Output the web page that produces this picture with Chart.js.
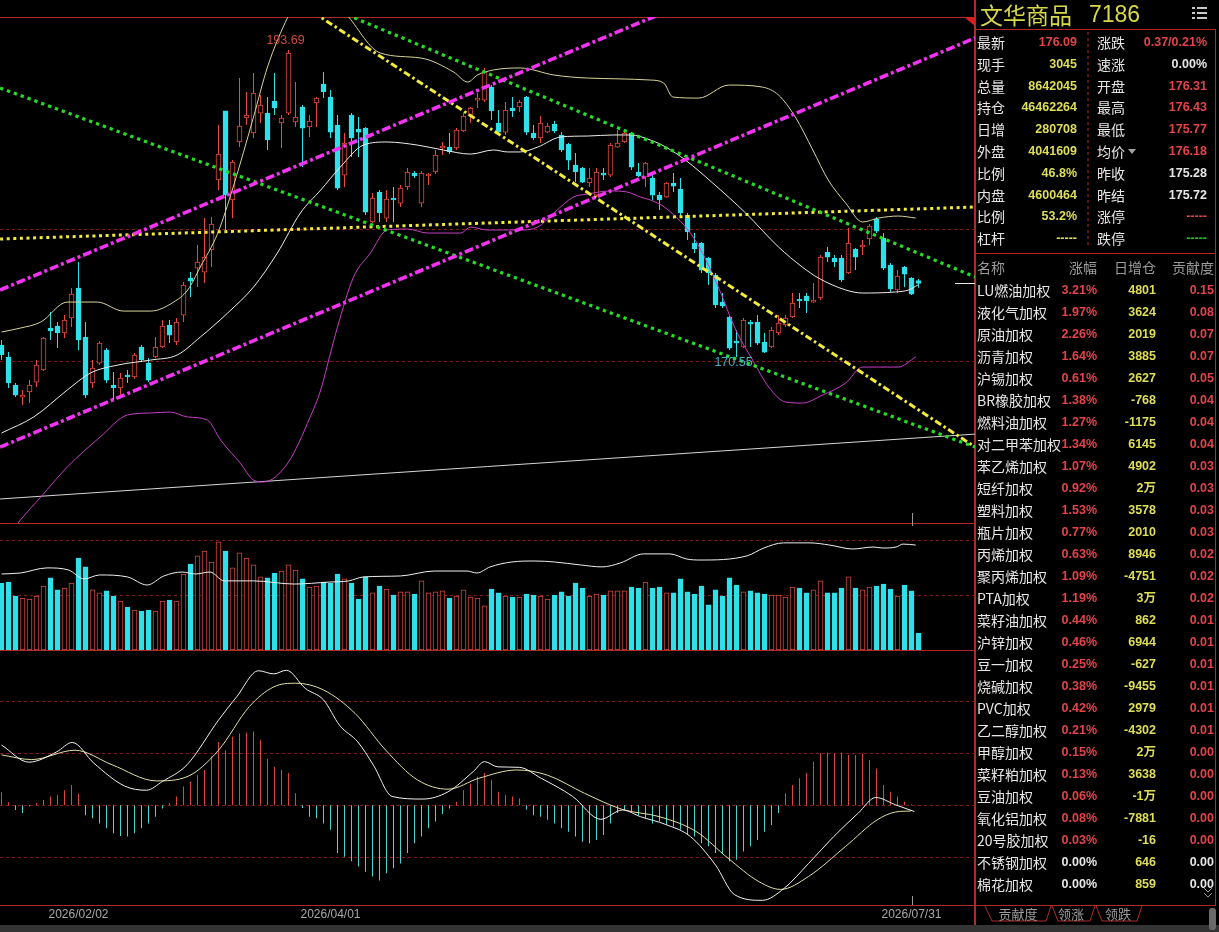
<!DOCTYPE html>
<html><head><meta charset="utf-8">
<script src="https://cdn.jsdelivr.net/npm/chart.js@4.4.1/dist/chart.umd.min.js"></script>
<style>
html,body{margin:0;padding:0;background:#000;width:1219px;height:932px;overflow:hidden;}
#wrap{position:relative;width:1219px;height:932px;background:#000;font-family:"Noto Sans CJK SC","Liberation Sans",sans-serif;}
canvas{position:absolute;left:0;}
.ln{position:absolute;background:#b02a2a;}
.t{position:absolute;white-space:nowrap;}
</style></head><body><div id="wrap">
<div class="ln" style="left:0;top:17px;width:975px;height:1px"></div>
<div class="ln" style="left:0;top:523px;width:975px;height:1px"></div>
<div class="ln" style="left:0;top:650px;width:975px;height:1px"></div>
<div class="ln" style="left:0;top:905px;width:975px;height:1px"></div>
<div class="ln" style="left:974px;top:0;width:2px;height:925px"></div>
<div class="ln" style="left:975px;top:29px;width:241px;height:1px"></div>
<div class="ln" style="left:975px;top:253px;width:241px;height:1px"></div>
<div class="ln" style="left:1215px;top:29px;width:1px;height:876px"></div>
<div style="position:absolute;left:0;top:925px;width:1219px;height:7px;background:#343434"></div>
<div style="position:absolute;left:1209px;top:908px;width:7px;height:22px;background:#6a6a6a;border-radius:3px"></div>
<canvas id="cMain" width="975" height="506" style="top:17px"></canvas>
<canvas id="cVol" width="975" height="127" style="top:523px"></canvas>
<canvas id="cMacd" width="975" height="275" style="top:650px"></canvas>
<svg style="position:absolute;left:0;top:0" width="1219" height="932">
<polygon points="964,17 975,17 975,26" fill="#d42020"/>
<line x1="1088" y1="32" x2="1088" y2="248" stroke="#b02a2a" stroke-dasharray="3,3"/>
<polygon points="1128,149 1136,149 1132,154" fill="#a0a0a0"/>
<rect x="1192" y="7" width="3" height="2" fill="#c8c8c8"/><rect x="1197" y="7" width="10" height="2" fill="#c8c8c8"/>
<rect x="1192" y="12" width="3" height="2" fill="#c8c8c8"/><rect x="1197" y="12" width="10" height="2" fill="#c8c8c8"/>
<rect x="1192" y="17" width="3" height="2" fill="#c8c8c8"/><rect x="1197" y="17" width="10" height="2" fill="#c8c8c8"/>
<line x1="975" y1="905.5" x2="1216" y2="905.5" stroke="#b02a2a"/>
<polyline points="985,906 992,921 1046,921 1051,906" stroke="#b02a2a" fill="none"/>
<polyline points="1052,906 1058,921 1090,921 1095,906" stroke="#b02a2a" fill="none"/>
<polyline points="1096,906 1102,921 1137,921 1142,906" stroke="#b02a2a" fill="none"/>
<polyline points="1204,888 1208,892 1212,888" stroke="#9a9a9a" fill="none"/>
<polyline points="1204,893 1208,897 1212,893" stroke="#9a9a9a" fill="none"/>
</svg>
</div>
<script>
// ================= DATA =================
const opens = [
171.45,170.55,168.44,167.53,167.91,168.66,169.57,172.73,172.88,172.36,
173.49,175.75,172.05,168.59,170.09,171.07,168.44,168.21,169.19,169.04,
171.30,170.09,170.55,171.30,172.96,171.68,173.71,176.50,177.25,176.95,
178.61,183.89,189.09,182.38,186.75,188.56,187.43,188.93,188.93,189.84,
188.18,188.93,188.26,189.39,187.88,189.69,191.12,190.14,188.03,184.26,
188.78,187.73,187.80,180.72,182.98,181.02,182.53,182.15,183.36,184.41,
182.15,184.19,184.49,186.30,186.37,186.30,187.58,188.78,189.91,189.91,
190.89,188.18,187.50,189.31,189.39,190.14,187.43,187.05,187.50,188.11,
187.28,186.60,185.02,184.79,183.66,182.75,184.41,184.26,186.37,186.75,
187.43,184.49,184.11,184.04,182.75,182.60,183.66,183.21,181.25,179.14,
179.14,178.01,176.73,174.69,173.56,171.75,171.30,173.18,173.18,171.68,
171.30,172.36,172.96,173.56,174.92,175.14,174.69,175.00,178.46,178.01,
178.01,176.88,178.69,178.84,179.44,180.95,179.51,177.48,175.60,177.33,
176.50,176.31];
const highs = [
171.83,170.92,168.59,168.06,168.81,170.32,172.05,173.94,173.18,173.71,
175.75,177.71,173.18,170.32,171.75,171.22,169.42,169.34,169.57,170.85,
171.45,170.47,172.05,173.33,173.33,173.49,176.20,176.95,178.99,181.02,
181.10,188.03,189.09,185.39,191.57,190.52,191.95,190.29,190.14,191.95,
188.78,193.69,191.27,189.54,188.78,190.14,192.02,190.67,188.78,187.43,
188.93,188.63,187.88,182.91,183.13,183.13,183.36,183.51,184.79,184.56,
184.56,184.41,186.15,186.75,187.43,187.80,188.93,189.39,190.44,192.33,
191.04,189.16,189.76,190.14,189.91,190.22,188.03,188.71,188.18,188.33,
187.50,186.67,185.92,184.86,184.79,184.79,184.79,186.67,187.65,187.50,
187.50,185.17,185.24,184.41,182.98,183.73,184.41,184.04,181.40,179.89,
179.21,178.08,176.88,175.37,173.64,172.58,173.49,173.33,173.71,172.36,
172.81,173.71,173.71,175.37,175.37,175.37,176.12,178.23,178.84,178.23,
178.23,180.27,178.76,179.36,180.57,181.10,179.89,177.63,177.10,177.41,
176.58,176.43];
const lows = [
170.32,168.21,167.53,166.93,167.08,168.29,169.49,171.83,171.22,171.98,
172.81,171.07,167.46,168.21,169.94,168.59,167.31,167.68,168.59,168.89,
170.17,168.66,170.47,171.22,171.60,171.45,173.18,175.07,175.82,176.12,
177.33,183.13,180.12,181.02,186.37,188.03,187.05,188.18,186.15,188.78,
186.30,188.78,187.88,184.86,187.13,187.88,190.06,187.05,183.13,183.36,
185.62,185.62,181.25,180.64,180.72,180.72,180.72,181.85,183.13,184.04,
181.85,183.51,184.34,185.77,185.84,186.15,187.50,188.18,189.31,189.76,
188.41,187.43,187.28,188.63,189.01,187.28,186.90,186.67,187.43,187.43,
186.00,184.64,183.73,183.66,183.36,182.60,183.89,184.11,186.30,186.67,
184.64,184.11,183.36,182.38,181.62,182.53,182.98,181.10,179.36,178.38,
176.88,175.97,174.24,174.24,171.07,170.55,171.22,171.30,171.45,170.85,
171.22,172.20,172.81,173.49,174.24,173.86,174.62,174.84,177.71,177.33,
176.20,176.80,177.10,178.23,178.99,179.89,177.10,175.45,175.37,175.82,
175.22,175.77];
const closes = [
170.70,168.59,167.68,167.68,168.44,169.94,171.98,172.51,172.36,173.33,
175.29,171.83,167.68,169.72,171.60,168.81,168.21,168.96,169.04,170.70,
170.32,168.81,171.30,172.88,172.20,173.18,175.97,176.27,177.71,178.08,
180.57,185.84,182.75,185.24,187.95,188.78,190.44,189.54,186.90,189.31,
188.56,193.46,188.63,187.80,188.33,190.06,190.52,187.50,183.28,186.67,
187.05,187.50,181.47,182.53,181.40,182.45,182.38,183.28,184.49,184.19,
184.41,184.34,185.77,186.45,186.00,187.65,188.71,189.31,190.06,192.02,
189.09,187.50,189.16,189.09,189.76,187.50,187.05,188.18,187.95,187.58,
186.15,185.39,184.49,183.73,184.04,184.49,184.26,186.52,186.67,187.43,
184.86,184.19,185.17,182.75,182.38,183.66,183.43,181.40,179.97,178.69,
177.10,176.88,174.47,174.39,171.22,171.60,173.33,173.03,171.60,170.92,
172.58,173.11,173.49,174.62,174.77,174.77,174.84,178.08,178.08,177.71,
176.35,179.14,178.08,178.99,180.42,180.04,177.25,175.67,176.65,176.80,
175.28,176.09];
// volume (million lots)
const volumes = [
34.0,34.5,27.4,26.4,25.9,27.4,32.5,36.6,30.5,31.5,
34.0,46.7,42.2,30.5,29.0,30.0,27.4,24.9,21.8,20.3,
19.8,20.3,19.8,24.9,25.4,24.9,38.6,43.7,47.8,50.3,
44.7,54.9,50.3,41.7,49.3,46.7,43.2,37.1,36.6,39.1,
40.1,43.2,40.6,36.1,32.0,32.5,34.5,34.0,38.6,36.1,
34.0,25.9,37.1,29.0,32.5,31.0,27.9,29.5,29.5,28.4,
35.1,29.0,29.5,30.0,26.4,27.4,30.5,26.9,26.4,22.4,
31.0,29.0,27.4,26.9,26.9,28.4,27.9,27.4,25.9,27.9,
29.5,27.4,34.0,31.5,27.4,28.4,27.9,30.0,30.0,30.0,
32.0,31.5,34.5,31.5,32.0,29.0,29.0,36.1,29.5,28.4,
32.5,22.9,30.5,27.4,36.6,33.0,29.5,30.0,29.0,28.4,
27.9,27.9,26.9,32.0,31.5,29.0,30.5,35.1,29.0,29.0,
31.5,37.1,31.5,30.5,32.0,32.5,33.5,31.0,27.4,33.0,
30.0,8.6];
const macdHist = [
0.25,0.06,-0.09,-0.15,-0.02,0.04,0.10,0.17,0.20,0.29,
0.39,0.22,-0.19,-0.25,-0.35,-0.44,-0.54,-0.59,-0.60,-0.54,
-0.44,-0.35,-0.22,-0.06,0.04,0.17,0.36,0.46,0.58,0.68,
0.94,1.22,1.06,1.32,1.38,1.40,1.42,1.26,0.90,0.74,
0.68,0.62,0.23,-0.05,-0.22,-0.25,-0.35,-0.47,-0.92,-0.99,
-1.08,-1.18,-1.28,-1.37,-1.45,-1.31,-1.21,-1.12,-0.92,-0.73,
-0.60,-0.44,-0.31,-0.17,-0.06,0.07,0.29,0.42,0.55,0.62,
0.49,0.26,0.20,0.17,0.13,-0.08,-0.19,-0.22,-0.28,-0.35,
-0.44,-0.51,-0.60,-0.70,-0.73,-0.67,-0.57,-0.35,-0.15,-0.09,
-0.15,-0.19,-0.25,-0.35,-0.31,-0.38,-0.41,-0.47,-0.57,-0.60,
-0.73,-0.79,-0.92,-0.92,-1.08,-1.05,-0.89,-0.79,-0.67,-0.51,
-0.38,-0.15,0.23,0.39,0.52,0.62,0.84,1.00,1.01,0.99,
1.01,0.97,0.97,0.99,0.87,0.71,0.39,0.26,0.17,0.07,
0.02,0.01];
// indicator lines: [bar index, value]
const bollUpper = [[0,172.43],[2.7,172.73],[5.6,173.18],[9.4,174.69],[13.7,174.69],[17.4,174.01],[21.3,174.01],[24.6,174.69],[26.6,175.60],[28.4,177.33],[30.9,179.89],[33.1,183.36],[36,188.63],[38,192.40],[40.9,196.17],[43.5,198.6],[46.5,198.3],[49.6,196.17],[54.1,193.46],[59.9,193.08],[64.6,192.02],[66.6,191.27],[68,191.80],[70.3,192.18],[74.1,192.33],[78.9,191.80],[83.7,191.57],[92.7,191.42],[94.6,191.20],[95.9,190.14],[99.6,190.06],[103.9,191.04],[108.7,190.89],[111,190.29],[113.4,188.63],[115.9,186.15],[118.1,183.89],[120.6,182.15],[123,180.72],[125.3,181.02],[128.1,181.17],[130.6,181.02]];
const bollMid = [[0,164.82],[4.6,166.03],[9.4,168.06],[12.7,169.34],[16.6,169.94],[21.3,170.32],[25.1,170.70],[28.4,172.05],[32.3,173.86],[36,175.82],[39.4,178.38],[42.7,181.40],[45.6,183.13],[48.4,184.86],[51.7,186.52],[55.1,186.75],[59.4,186.52],[63.1,186.15],[67,185.84],[70.3,186.15],[72.3,186.00],[74.1,186.00],[76.6,186.37],[79.9,187.13],[83.7,187.20],[87.4,187.28],[89.9,187.28],[92.7,186.90],[94.9,186.37],[97.7,185.39],[101.6,183.66],[106.3,181.40],[111,178.84],[114.4,177.33],[116.7,176.50],[120.6,175.60],[123,175.37],[127.7,175.45],[129.6,175.60],[130.9,175.97]];
const bollLower = [[0,156.38],[2.7,158.26],[5.6,159.99],[9.4,162.26],[14.1,164.52],[18,166.18],[21.3,166.33],[24.1,166.40],[26.6,166.03],[29.4,165.80],[31.3,164.29],[34.1,162.56],[36,161.28],[37.4,161.13],[40.9,162.56],[44.1,166.03],[45.6,168.06],[47,170.85],[48,172.81],[50.3,176.58],[52.7,178.38],[55.1,180.12],[58,180.19],[60.9,179.89],[65.6,179.89],[67,180.34],[69.4,180.12],[74.1,180.12],[76.6,180.34],[78.9,181.40],[81.7,182.60],[83.7,182.83],[87,183.06],[89.4,182.98],[91.3,182.60],[92.7,182.38],[94.9,181.77],[99.1,179.36],[102.4,175.82],[104.9,172.58],[107.3,170.32],[109.6,168.29],[112,167.16],[114.4,167.08],[117.3,167.68],[120.6,168.59],[123,169.79],[125.3,169.79],[128.1,169.79],[130.6,170.55]];
const volMA = [[0,38.6],[2.7,39.1],[6.5,41.7],[9.6,40.6],[11.8,36.1],[14,38.1],[18,37.1],[20.8,33.0],[23.2,37.6],[25.8,39.6],[27.7,38.6],[29.8,39.6],[31.8,35.1],[36,35.1],[41.8,33.5],[46.8,34.5],[49.6,35.1],[51.7,37.1],[57,37.6],[61.8,40.1],[66.5,40.1],[67.9,39.1],[69.8,42.2],[72.9,44.7],[76.2,45.2],[79,44.7],[82.7,43.2],[85.8,42.2],[88.4,44.2],[91.7,48.8],[95.5,48.8],[97.9,46.2],[99.8,45.7],[106.5,47.8],[108.9,51.8],[111.7,54.4],[115.5,54.4],[118.3,53.3],[121.6,51.3],[124.5,52.3],[125.9,51.8],[127.8,52.3],[128.8,53.8],[130.6,53.3]];
const macdDif = [[0,1.16],[3.9,0.83],[7.9,1.03],[10.1,1.21],[13.2,0.81],[17.6,0.37],[20.7,0.29],[23,0.46],[26.5,0.78],[31,1.64],[33.6,2.09],[36.7,2.59],[38.9,2.53],[40.7,2.6],[43.4,2.25],[46,2.03],[48.3,1.54],[50.9,1.22],[53.1,0.78],[55.8,0.17],[60.2,0.12],[63.8,0.26],[67.4,0.65],[69,0.84],[70.9,0.74],[74,0.73],[77.1,0.52],[81.6,0.17],[85.6,-0.27],[88.7,-0.09],[91.3,-0.22],[94.9,-0.37],[98.4,-0.6],[102,-1.15],[104.7,-1.72],[108.7,-1.83],[111.8,-1.6],[115.3,-1.12],[118.9,-0.6],[122.4,-0.15],[124.9,0.15],[127.7,0.01],[130.4,-0.12]];
const macdDea = [[0,0.97],[4.3,0.88],[10.5,1.06],[15.8,0.78],[22.1,0.47],[26.5,0.55],[31,1.06],[35.4,1.9],[38.9,2.28],[42,2.35],[46,2.22],[50.5,1.77],[54.9,1.06],[59.4,0.49],[63.8,0.31],[68.2,0.52],[73.6,0.68],[78,0.58],[83.3,0.23],[88.7,-0.08],[94,-0.22],[99.3,-0.51],[103.8,-1.02],[108.2,-1.47],[111.3,-1.62],[115.3,-1.37],[120.6,-0.79],[125.1,-0.28],[127.7,-0.13],[129.9,-0.11]];
// hand-drawn trend lines: [[index, price],[index, price]]
const trendMagentaUpper = [[-0.2,175.60],[139.1,206.31]];
const trendMagentaLower = [[-0.2,163.76],[139.1,194.59]];
const trendGreenUpper = [[42.7,197.80],[139.1,176.58]];
const trendGreenLower = [[-0.2,190.82],[139.1,163.76]];
const trendYellowFlat = [[-0.2,179.44],[139.1,181.85]];
const trendYellowDiag = [[42.7,197.16],[139.1,163.76]];
const longMA = [[-0.2,159.85],[139.1,164.74]];
// grids / axis values
const priceGrid = [180.2, 170.25];
const volGrid = [28, 56];
const macdGrid = [-1, 0, 1, 2];
const dateTickIdx = [11, 47, 130];
const dateTickLabels = ['2026/02/02', '2026/04/01', '2026/07/31'];
const cursorIdx = 130;
// right panel
const titleName = '文华商品', titleCode = '7186';
const quoteLeftLabels = ['最新','现手','总量','持仓','日增','外盘','比例','内盘','比例','杠杆'];
const quoteLeftValues = ['176.09','3045','8642045','46462264','280708','4041609','46.8%','4600464','53.2%','-----'];
const quoteRightLabels = ['涨跌','速涨','开盘','最高','最低','均价','昨收','昨结','涨停','跌停'];
const quoteRightValues = ['0.37/0.21%','0.00%','176.31','176.43','175.77','176.18','175.28','175.72','-----','-----'];
const tableHeader = ['名称','涨幅','日增仓','贡献度'];
const names = ['LU燃油加权','液化气加权','原油加权','沥青加权','沪锡加权','BR橡胶加权','燃料油加权','对二甲苯加权','苯乙烯加权','短纤加权','塑料加权','瓶片加权','丙烯加权','聚丙烯加权','PTA加权','菜籽油加权','沪锌加权','豆一加权','烧碱加权','PVC加权','乙二醇加权','甲醇加权','菜籽粕加权','豆油加权','氧化铝加权','20号胶加权','不锈钢加权','棉花加权'];
const pcts = ['3.21%','1.97%','2.26%','1.64%','0.61%','1.38%','1.27%','1.34%','1.07%','0.92%','1.53%','0.77%','0.63%','1.09%','1.19%','0.44%','0.46%','0.25%','0.38%','0.42%','0.21%','0.15%','0.13%','0.06%','0.08%','0.03%','0.00%','0.00%'];
const oiChg = ['4801','3624','2019','3885','2627','-768','-1175','6145','4902','2万','3578','2010','8946','-4751','3万','862','6944','-627','-9455','2979','-4302','2万','3638','-1万','-7881','-16','646','859'];
const contrib = ['0.15','0.08','0.07','0.07','0.05','0.04','0.04','0.04','0.03','0.03','0.03','0.03','0.02','0.02','0.02','0.01','0.01','0.01','0.01','0.01','0.01','0.00','0.00','0.00','0.00','0.00','0.00','0.00'];
const tabs = ['贡献度','领涨','领跌'];

// ================= STYLE / BUILD =================
const RED = '#e84a3c', CYAN = '#2ee0ea';
const N = closes.length;
const IDX = Array.from({length: N}, (_, i) => i);
const isUp = IDX.map(i => closes[i] > opens[i]);
const candleCol = IDX.map(i => isUp[i] ? RED : CYAN);
const X_MIN = -1.5 / 7, X_MAX = X_MIN + 975 / 7;
const pts = arr => arr.map(([x, y]) => ({x, y}));

function lineDs(arr, color, width, dash, order, smooth) {
  return { type: 'line', data: pts(arr), borderColor: color, borderWidth: width, borderDash: dash || [],
    pointRadius: 0, fill: false, order: order, clip: 0, borderCapStyle: 'butt',
    cubicInterpolationMode: smooth ? 'monotone' : 'default', tension: 0 };
}
function gridPlugin(values, extra, before) {
  return {
    id: 'deco',
    beforeDatasetsDraw(chart) {
      const {ctx, chartArea: a, scales: {y}} = chart;
      ctx.save();
      ctx.strokeStyle = '#7e1c1c'; ctx.lineWidth = 1; ctx.setLineDash([3, 3]);
      values.forEach(v => {
        const py = Math.round(y.getPixelForValue(v)) + 0.5;
        ctx.beginPath(); ctx.moveTo(a.left, py); ctx.lineTo(a.right, py); ctx.stroke();
      });
      ctx.restore();
      if (before) before(chart);
    },
    afterDatasetsDraw(chart) { if (extra) extra(chart); }
  };
}
function mkChart(id, datasets, yMin, yMax, plugin, padBottom) {
  return new Chart(document.getElementById(id), {
    type: 'bar',
    data: { datasets },
    options: {
      responsive: false, animation: false, devicePixelRatio: 1, events: [],
      layout: { padding: { left: 0, right: 0, top: 0, bottom: padBottom || 0 } },
      plugins: { legend: { display: false }, tooltip: { enabled: false } },
      scales: {
        x: { type: 'linear', min: X_MIN, max: X_MAX, display: false, offset: false },
        y: { type: 'linear', min: yMin, max: yMax, display: false }
      }
    },
    plugins: [plugin]
  });
}

// ---- main price panel ----
const hiIdx = highs.indexOf(Math.max(...highs));
let loIdx = hiIdx;
for (let i = hiIdx; i < N; i++) if (lows[i] < lows[loIdx]) loIdx = i;

mkChart('cMain', [
  { type: 'bar', data: IDX.map(i => ({x: i, y: [opens[i], closes[i]]})),
    backgroundColor: IDX.map(i => isUp[i] ? '#000' : CYAN), borderColor: candleCol, borderWidth: 1,
    borderSkipped: false, barThickness: 5, grouped: false, minBarLength: 1, order: 2 },
  { type: 'bar', data: IDX.map(i => ({x: i, y: [lows[i], highs[i]]})),
    backgroundColor: candleCol, borderWidth: 0, barThickness: 1, grouped: false, inflateAmount: 0, order: 3 },
  lineDs(bollUpper, '#d8d49a', 1, null, 1, true),
  lineDs(bollMid, '#ececec', 1, null, 1, true),
  lineDs(bollLower, '#c63ec6', 1, null, 1, true),
  lineDs(longMA, '#d6d6d6', 1, null, 1, false),
  lineDs(trendMagentaUpper, '#f233f2', 3.6, [9, 3, 3, 3], 0, false),
  lineDs(trendMagentaLower, '#f233f2', 3.6, [9, 3, 3, 3], 0, false),
  lineDs(trendGreenUpper, '#26dc26', 3.2, [3.3, 4], 0, false),
  lineDs(trendGreenLower, '#26dc26', 3.2, [3.3, 4], 0, false),
  lineDs(trendYellowFlat, '#f2ea3c', 3, [3, 3.6], 0, false),
  lineDs(trendYellowDiag, '#f2ea3c', 3, [7, 3, 2.5, 3], 0, false)
], 158.04, 196.17, gridPlugin(priceGrid, chart => {
  const {ctx, chartArea: a, scales: {x, y}} = chart;
  ctx.save();
  ctx.font = '12.5px "Liberation Sans", Arial, sans-serif';
  ctx.textAlign = 'center'; ctx.textBaseline = 'middle';
  ctx.fillStyle = '#d24a3a';
  ctx.fillText(highs[hiIdx].toFixed(2), x.getPixelForValue(hiIdx) - 3, y.getPixelForValue(highs[hiIdx]) - 9);
  ctx.fillStyle = '#44b2c4';
  ctx.fillText(lows[loIdx].toFixed(2), x.getPixelForValue(loIdx) - 3, y.getPixelForValue(lows[loIdx]) + 6);
  // last price marker
  const py = Math.round(y.getPixelForValue(closes[N - 1])) + 0.5;
  ctx.strokeStyle = '#e8e8e8'; ctx.lineWidth = 1;
  ctx.beginPath(); ctx.moveTo(a.right - 20, py); ctx.lineTo(a.right, py); ctx.stroke();
  // cursor tick
  const cx = Math.round(x.getPixelForValue(cursorIdx)) + 0.5;
  ctx.strokeStyle = '#9a9a9a';
  ctx.beginPath(); ctx.moveTo(cx, a.bottom - 10); ctx.lineTo(cx, a.bottom); ctx.stroke();
  ctx.restore();
}));

// ---- volume panel ----
mkChart('cVol', [
  { type: 'bar', data: IDX.map(i => ({x: i, y: volumes[i]})),
    backgroundColor: IDX.map(i => isUp[i] ? '#000' : CYAN), borderColor: IDX.map(i => isUp[i] ? '#d84a3e' : CYAN),
    borderWidth: 1, borderSkipped: false, barThickness: 5, grouped: false, order: 2 },
  lineDs(volMA, '#efefef', 1, null, 1, true)
], 0, 64.5, gridPlugin(volGrid, chart => {
  const {ctx, chartArea: a, scales: {x}} = chart;
  const cx = Math.round(x.getPixelForValue(cursorIdx)) + 0.5;
  ctx.save(); ctx.strokeStyle = '#9a9a9a';
  ctx.beginPath(); ctx.moveTo(cx, a.top); ctx.lineTo(cx, a.top + 3); ctx.stroke(); ctx.restore();
}));

// ---- MACD panel ----
mkChart('cMacd', [
  { type: 'bar', data: IDX.map(i => ({x: i, y: macdHist[i]})),
    backgroundColor: IDX.map(i => macdHist[i] >= 0 ? '#d8483c' : '#4cd2d2'), borderWidth: 0,
    barThickness: 1, grouped: false, inflateAmount: 0, order: 2 },
  lineDs(macdDif, '#f0f0f0', 1, null, 1, true),
  lineDs(macdDea, '#e2e0a4', 1, null, 1, true)
], -1.92, 2.99, gridPlugin(macdGrid, chart => {
  const {ctx, chartArea: a, scales: {x}} = chart;
  ctx.save();
  ctx.font = '12px "Liberation Sans", Arial, sans-serif';
  ctx.fillStyle = '#a8a8a8'; ctx.textAlign = 'center'; ctx.textBaseline = 'middle';
  dateTickIdx.forEach((v, k) => ctx.fillText(dateTickLabels[k], x.getPixelForValue(v), a.bottom + 10));
  const cx = Math.round(x.getPixelForValue(cursorIdx)) + 0.5;
  ctx.strokeStyle = '#9a9a9a';
  ctx.beginPath(); ctx.moveTo(cx, a.bottom - 9); ctx.lineTo(cx, a.bottom); ctx.stroke();
  ctx.restore();
}), 20);

// ---- right panel text ----
const wrap = document.getElementById('wrap');
const NUMF = '"Liberation Sans","Noto Sans CJK SC",sans-serif';
const CJKF = '"Noto Sans CJK SC",sans-serif';
function addText(txt, x, yc, color, size, align, bold, fam) {
  const d = document.createElement('div');
  d.className = 't';
  d.textContent = txt;
  d.style.color = color; d.style.fontSize = size + 'px';
  d.style.fontWeight = bold ? 'bold' : 'normal'; d.style.fontFamily = fam;
  d.style.lineHeight = Math.round(size * 1.3) + 'px';
  d.style.top = (yc - Math.round(size * 1.3) / 2) + 'px';
  if (align === 'right') d.style.right = (1219 - x) + 'px';
  else if (align === 'center') { d.style.left = (x - 60) + 'px'; d.style.width = '120px'; d.style.textAlign = 'center'; }
  else d.style.left = x + 'px';
  wrap.appendChild(d);
}
const C_RED = '#e2444a', C_YEL = '#dede58', C_WHT = '#e6e6e6', C_GRY = '#9c9c9c', C_GRN = '#22c822';
addText(titleName, 980, 14, '#d8d84c', 23, 'left', false, CJKF);
addText(titleCode, 1089, 14, '#d8d84c', 23, 'left', false, NUMF);
const leftValColors = [C_RED, C_YEL, C_YEL, C_YEL, C_YEL, C_YEL, C_YEL, C_YEL, C_YEL, C_YEL];
const rightValColors = [C_RED, C_WHT, C_RED, C_RED, C_RED, C_RED, C_WHT, C_WHT, C_RED, C_GRN];
quoteLeftLabels.forEach((lab, k) => {
  const yc = 42 + k * 21.8;
  addText(lab, 977, yc, C_WHT, 14, 'left', false, CJKF);
  addText(quoteLeftValues[k], 1077, yc, leftValColors[k], 12.5, 'right', true, NUMF);
  addText(quoteRightLabels[k], 1097, yc, C_WHT, 14, 'left', false, CJKF);
  addText(quoteRightValues[k], 1207, yc, rightValColors[k], 12.5, 'right', true, NUMF);
});
addText(tableHeader[0], 977, 267, C_GRY, 14, 'left', false, CJKF);
addText(tableHeader[1], 1097, 267, C_GRY, 14, 'right', false, CJKF);
addText(tableHeader[2], 1156, 267, C_GRY, 14, 'right', false, CJKF);
addText(tableHeader[3], 1214, 267, C_GRY, 14, 'right', false, CJKF);
names.forEach((nm, k) => {
  const yc = 290 + k * 22;
  const zero = pcts[k] === '0.00%';
  addText(nm, 977, yc, C_WHT, 14, 'left', false, CJKF);
  addText(pcts[k], 1097, yc, zero ? C_WHT : C_RED, 12.5, 'right', true, NUMF);
  addText(oiChg[k], 1156, yc, C_YEL, 12.5, 'right', true, NUMF);
  addText(contrib[k], 1214, yc, zero ? C_WHT : C_RED, 12.5, 'right', true, NUMF);
});
const tabCenters = [1018, 1071, 1118];
tabs.forEach((t, k) => addText(t, tabCenters[k], 913, C_GRY, 13, 'center', false, CJKF));
</script>
</body></html>
